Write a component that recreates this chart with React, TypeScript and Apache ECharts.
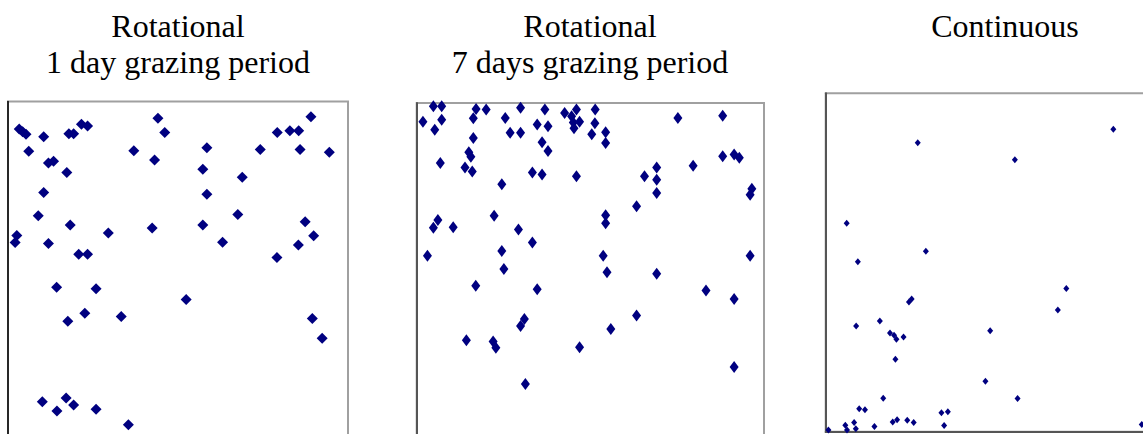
import React, { useEffect, useRef } from "react";
import * as echarts from "echarts";

// Panel titles
const titles1 = ["Rotational", "1 day grazing period"];
const titles2 = ["Rotational", "7 days grazing period"];
const titles3 = ["Continuous"];

// Panel 1: Rotational, 1 day grazing period  [x, y] (0-100 scale)
const rot1: number[][] = [
  [3.3, 91.9], [4.3, 91.1], [5.3, 90.4], [10.5, 89.6], [17.9, 90.5], [19.3, 90.5],
  [21.6, 93.3], [23.4, 92.8], [44.1, 95.1], [46.1, 90.9], [6.1, 85.4], [37.0, 85.5],
  [43.1, 82.8], [58.5, 86.4], [74.2, 85.9], [79.2, 90.9], [82.9, 91.4], [85.5, 91.4],
  [89.1, 95.5], [85.9, 85.9], [94.5, 85.1], [11.9, 81.9], [13.4, 82.4], [17.3, 79.1],
  [57.3, 80.1], [68.9, 77.7], [10.5, 73.2], [58.5, 72.7], [8.9, 66.4], [18.3, 63.7],
  [29.5, 61.3], [42.4, 62.8], [57.3, 63.7], [67.6, 66.8], [87.4, 64.6], [89.9, 60.5],
  [2.6, 60.6], [2.1, 58.5], [11.9, 58.2], [63.1, 58.6], [85.4, 57.8], [20.8, 55.1],
  [23.4, 55.1], [79.1, 54.1], [14.3, 45.4], [25.9, 44.9], [52.4, 41.8], [22.6, 37.7],
  [17.6, 35.4], [33.3, 36.8], [89.5, 36.2], [92.4, 30.4], [10.1, 11.7], [17.1, 12.8],
  [19.3, 10.7], [14.4, 9.0], [25.9, 9.5], [35.4, 4.9],
];

// Panel 2: Rotational, 7 days grazing period
const rot7: number[][] = [
  [4.8, 99.1], [7.2, 99.1], [1.8, 94.6], [7.2, 95.2], [5.2, 92.3], [17.1, 98.3],
  [16.3, 95.6], [20.0, 98.1], [29.9, 98.6], [36.9, 98.1], [25.5, 95.7], [26.9, 91.4],
  [29.9, 91.4], [34.7, 93.8], [37.8, 93.3], [42.6, 97.1], [46.0, 98.1], [44.6, 96.2],
  [45.1, 94.4], [46.9, 94.6], [45.3, 92.7], [51.4, 98.1], [51.3, 94.2], [50.4, 91.0],
  [54.4, 91.6], [54.4, 88.5], [16.3, 89.9], [36.1, 88.7], [37.8, 86.2], [15.0, 85.8],
  [15.6, 84.5], [6.8, 82.7], [13.9, 81.4], [16.0, 80.3], [33.3, 80.0], [36.1, 79.4],
  [46.0, 78.9], [75.2, 95.7], [88.1, 96.3], [88.1, 84.7], [91.4, 85.2], [92.9, 84.2],
  [79.6, 81.9], [69.1, 81.4], [65.6, 78.9], [69.1, 77.9], [69.1, 74.1], [96.5, 75.3],
  [96.0, 73.6], [24.5, 76.6], [63.3, 70.3], [6.1, 66.3], [4.8, 64.1], [10.5, 64.2],
  [22.3, 67.5], [29.3, 63.6], [33.3, 59.8], [54.4, 67.7], [54.4, 65.4], [3.1, 56.0],
  [24.5, 57.4], [53.7, 56.0], [96.0, 56.0], [25.1, 52.2], [54.8, 51.3], [69.1, 50.8],
  [17.0, 47.4], [34.7, 46.4], [83.3, 46.0], [91.4, 43.6], [31.0, 37.8], [29.9, 35.8],
  [63.3, 38.8], [55.9, 34.9], [14.3, 31.7], [22.0, 31.3], [22.8, 29.5], [46.9, 29.7],
  [91.4, 24.0], [31.3, 19.1],
];

// Panel 3: Continuous
const cont: number[][] = [
  [27.2, 85.4], [55.9, 80.4], [85.0, 89.4], [6.2, 61.6], [29.6, 53.3], [9.5, 50.2],
  [71.1, 42.3], [68.6, 36.0], [25.4, 39.2], [24.6, 38.3], [9.0, 31.2], [16.0, 32.7],
  [19.0, 29.2], [20.2, 28.5], [20.9, 27.3], [23.0, 28.0], [48.6, 29.8], [20.6, 21.4],
  [47.2, 14.9], [56.7, 9.8], [17.0, 9.9], [9.9, 6.8], [11.6, 6.5], [34.2, 5.6],
  [36.1, 5.9], [8.4, 2.7], [5.8, 1.9], [6.3, 0.5], [8.9, 0.9], [0.8, 0.5],
  [14.4, 1.5], [19.8, 2.9], [21.1, 3.5], [24.1, 3.4], [26.0, 2.7], [35.0, 1.8],
  [93.4, 2.1],
];

const MARK = "#000080";
const SERIF = "Liberation Serif";

export default function App() {
  const ref = useRef<HTMLDivElement>(null);
  useEffect(() => {
    if (!ref.current) return;
    const chart = echarts.init(ref.current, undefined, { renderer: "svg" });
    const grids = [
      { left: 8, top: 101.5, width: 340, height: 340 },
      { left: 416.7, top: 103, width: 347.3, height: 347.3 },
      { left: 825.7, top: 93.3, width: 338.4, height: 338.4 },
    ];
    const axisColors = ["#000", "#555", "#555"];
    const axisWidths = [1.5, 2, 2];
    const mkAxis = (i: number) => ({
      gridIndex: i,
      type: "value" as const,
      min: 0,
      max: 100,
      axisLine: { show: true, onZero: false, lineStyle: { color: axisColors[i], width: axisWidths[i] } },
      axisTick: { show: false },
      axisLabel: { show: false },
      splitLine: { show: false },
    });
    const titleText = (lines: string[], cx: number) =>
      lines.map((t, k) => ({
        type: "text",
        x: cx,
        y: 26 + k * 36,
        style: {
          text: t,
          fontFamily: SERIF,
          fontSize: 32,
          fill: "#000",
          textAlign: "center",
          textVerticalAlign: "middle",
        },
      }));
    chart.setOption({
      animation: false,
      backgroundColor: "#fff",
      grid: grids.map((g) => ({ ...g, show: true, borderColor: "#a0a0a0", borderWidth: 2, backgroundColor: "#fff" })),
      xAxis: [0, 1, 2].map(mkAxis),
      yAxis: [0, 1, 2].map(mkAxis),
      series: [
        { type: "scatter", xAxisIndex: 0, yAxisIndex: 0, data: rot1, symbol: "diamond", symbolSize: [11, 11], itemStyle: { color: MARK, opacity: 1 } },
        { type: "scatter", xAxisIndex: 1, yAxisIndex: 1, data: rot7, symbol: "diamond", symbolSize: [9, 12], itemStyle: { color: MARK, opacity: 1 } },
        { type: "scatter", xAxisIndex: 2, yAxisIndex: 2, data: cont, symbol: "diamond", symbolSize: [6, 7], itemStyle: { color: MARK, opacity: 1 } },
      ],
      graphic: [
        ...titleText(titles1, 178),
        ...titleText(titles2, 590),
        ...titleText(titles3, 1005),
      ],
    });
    return () => chart.dispose();
  }, []);
  return (
    <div
      ref={ref}
      style={{ position: "fixed", left: 0, top: 0, width: 1200, height: 480 }}
    />
  );
}
